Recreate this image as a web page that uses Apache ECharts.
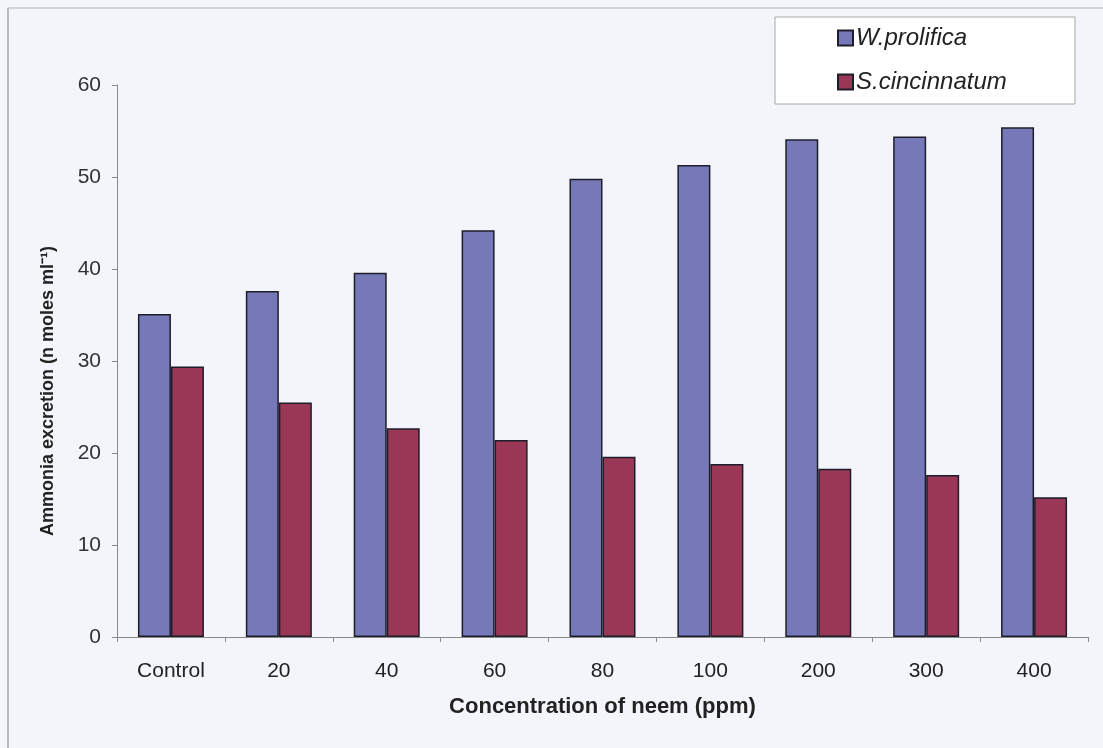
<!DOCTYPE html>
<html>
<head>
<meta charset="utf-8">
<script src="https://cdn.jsdelivr.net/npm/echarts@6/dist/echarts.min.js"></script>
<style>
  html, body { margin: 0; padding: 0; background: #f3f5fb; }
  #chart { width: 1103px; height: 748px; }
</style>
</head>
<body>
<div id="chart"></div>
<script>
// Ammonia excretion against neem concentration
const categories = ['Control', '20', '40', '60', '80', '100', '200', '300', '400'];
const wProlifica = [35.1, 37.6, 39.6, 44.2, 49.8, 51.3, 54.1, 54.4, 55.4];
const sCincinnatum = [29.4, 25.5, 22.7, 21.4, 19.6, 18.8, 18.3, 17.6, 15.2];
const seriesNames = ['W.prolifica', 'S.cincinnatum'];
const yTicks = { min: 0, max: 60, interval: 10 };

const chart = echarts.init(document.getElementById('chart'), null, { renderer: 'canvas' });
const font = 'Liberation Sans, Arial, sans-serif';

chart.setOption({
  backgroundColor: '#f3f5fb',
  animation: false,
  graphic: [
    // thin frame lines along the top and left edges
    { type: 'line', shape: { x1: 8, y1: 8, x2: 1103, y2: 8 }, style: { stroke: '#c8cad0', lineWidth: 1.5 } },
    { type: 'line', shape: { x1: 8, y1: 8, x2: 8, y2: 748 }, style: { stroke: '#b8bac0', lineWidth: 2 } },
    // legend box
    { type: 'rect', shape: { x: 775, y: 17, width: 300, height: 87 }, style: { fill: '#ffffff', stroke: '#a8a8a8', lineWidth: 1 }, z: 0 }
  ],
  legend: {
    orient: 'vertical',
    left: 837,
    top: 26,
    itemWidth: 15,
    itemHeight: 15,
    itemGap: 20,
    padding: 0,
    textStyle: { fontFamily: font, fontSize: 24, fontStyle: 'italic', color: '#222', padding: [0, 0, 0, -2] },
    data: seriesNames.map(n => ({ name: n, icon: 'rect' }))
  },
  grid: { left: 117, right: 15, top: 85, bottom: 111, containLabel: false },
  xAxis: {
    type: 'category',
    data: categories,
    name: 'Concentration of neem (ppm)',
    nameLocation: 'middle',
    nameGap: 59,
    nameTextStyle: { fontFamily: font, fontSize: 22, fontWeight: 'bold', color: '#222' },
    axisLine: { lineStyle: { color: '#8a8a8a', width: 1 } },
    axisTick: { show: true, alignWithLabel: false, length: 5, lineStyle: { color: '#8a8a8a' } },
    axisLabel: { fontFamily: font, fontSize: 21, color: '#222', margin: 24 }
  },
  yAxis: {
    type: 'value',
    min: yTicks.min,
    max: yTicks.max,
    interval: yTicks.interval,
    name: 'Ammonia excretion (n moles ml\u207B\u00B9)',
    nameLocation: 'middle',
    nameRotate: 90,
    nameGap: 60,
    nameTextStyle: { fontFamily: font, fontSize: 18, fontWeight: 'bold', color: '#222', padding: [0, 60, 0, 0] },
    axisLine: { show: true, lineStyle: { color: '#8a8a8a', width: 1 } },
    axisTick: { show: true, length: 5, lineStyle: { color: '#8a8a8a' } },
    axisLabel: { fontFamily: font, fontSize: 21, color: '#333', margin: 16 },
    splitLine: { show: false }
  },
  series: [
    {
      name: seriesNames[0],
      type: 'bar',
      data: wProlifica,
      barWidth: 33,
      barGap: '0%',
      itemStyle: { color: '#7678b8', borderColor: '#1e1e2a', borderWidth: 1.5 }
    },
    {
      name: seriesNames[1],
      type: 'bar',
      data: sCincinnatum,
      barWidth: 33,
      itemStyle: { color: '#9a3656', borderColor: '#1e1e2a', borderWidth: 1.5 }
    }
  ]
});
</script>
</body>
</html>
